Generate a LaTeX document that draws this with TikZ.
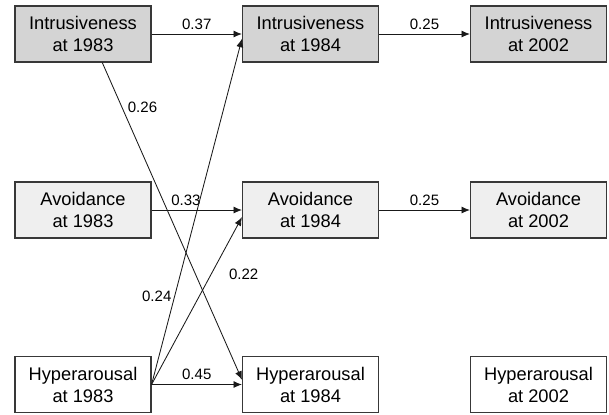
\documentclass[tikz,border=0pt]{standalone}
\usepackage{fontspec}
\setmainfont{Liberation Sans}
\usetikzlibrary{arrows.meta}
\definecolor{intfill}{HTML}{D4D4D4}
\definecolor{avfill}{HTML}{EFEFEF}
\definecolor{boxline}{HTML}{383838}
\begin{document}
\begin{tikzpicture}[
    var/.style={draw=boxline, line width=0.8pt, minimum width=3.4cm, minimum height=1.4cm,
        inner sep=0pt, align=center, font=\fontsize{13}{15.6}\selectfont},
    path/.style={draw=black!90, line width=0.6pt, -{Latex[length=6pt,width=5pt]}},
    coef/.style={font=\fontsize{10.7}{12}\selectfont, inner sep=1pt}
]
\useasboundingbox (0,0) rectangle (15.225,-10.35);

% Intrusiveness
\foreach \yr/\x in {1983/2.075,1984/7.7625,2002/13.4625} {
    \node[var, fill=intfill] (int\yr) at (\x,-0.85) {Intrusiveness\\at \yr};
}

% Avoidance
\foreach \yr/\x in {1983/2.075,1984/7.7625,2002/13.4625} {
    \node[var, fill=avfill] (av\yr) at (\x,-5.25) {Avoidance\\at \yr};
}

% Hyperarousal
\foreach \yr/\x in {1983/2.075,1984/7.7625,2002/13.4625} {
    \node[var, fill=white] (hyp\yr) at (\x,-9.6125) {Hyperarousal\\at \yr};
}

% Stability paths
\draw[path] (int1983) -- node[coef, above=2pt] {0.37} (int1984);
\draw[path] (int1984) -- node[coef, above=2pt] {0.25} (int2002);
\draw[path] (av1983) -- node[coef, above=2pt, pos=0.38] {0.33} (av1984);
\draw[path] (av1984) -- node[coef, above=2pt] {0.25} (av2002);
\draw[path] (hyp1983) -- node[coef, above=2pt] {0.45} (hyp1984);

% Cross-lagged paths
\draw[path] (int1983.-56) -- node[coef, pos=0.14, right=3pt] {0.26} (hyp1984.176);
\draw[path] (hyp1983.east) -- node[coef, pos=0.255, left=1pt] {0.24} (int1984.184);
\draw[path] (hyp1983.east) -- node[coef, pos=0.66, right=0.4cm] {0.22} (av1984.186);
\end{tikzpicture}
\end{document}
